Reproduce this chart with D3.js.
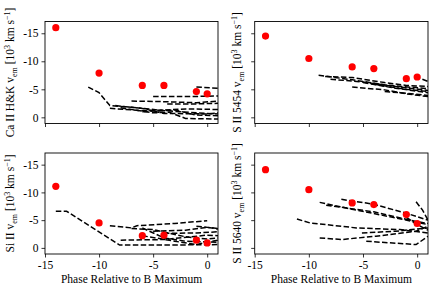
<!DOCTYPE html>
<html><head><meta charset="utf-8">
<script src="https://cdn.jsdelivr.net/npm/d3@7"></script>
<style>
body{margin:0;background:#fff;}
svg{display:block;font-family:"Liberation Serif","DejaVu Serif",serif;}
</style></head><body>
<svg id="c" width="439" height="292"></svg>
<script>
// ---- data ----
const phases = [-14, -10, -6, -4, -1, 0];
const caVel = [-16.0, -7.9, -5.7, -5.7, -4.6, -4.2];
const s5454Vel = [-14.5, -10.5, -9.0, -8.7, -6.9, -7.2];
const siVel = [-11.1, -4.5, -2.2, -2.3, -1.4, -0.9];
const s5640Vel = [-14.1, -10.5, -8.1, -7.8, -6.0, -4.4];

const caModels = [
 [[-11,-5.4],[-10,-4.4],[-9,-2.1],[-7,-1.8],[-4,-1.2],[-1,-0.8],[1,-0.6]],
 [[-7,-2.9],[-4,-2.8],[-1,-2.6],[1,-2.9]],
 [[-5,-3.7],[-2,-3.7],[1,-3.8]],
 [[-1,-5.4],[1,-5.2]],
 [[-3.7,-2.4],[-1,-2.4],[1,-2.5]],
 [[-9,-1.6],[-6,-1.2],[-4,-1.3],[-2,-1.5],[1,-1.4]],
 [[-8,-1.7],[-5,-0.8],[-3.5,-0.9],[-2,0.2],[1,0.3]],
 [[-6,-1.0],[-3,-1.3],[-1,-0.4],[1,-0.3]],
 [[-8.5,-2.1],[-6,-1.6],[-4,-0.7],[0,-0.6],[1,-0.8]]
];
const s5454Models = [
 [[-9.1,-7.5],[-6,-6.7],[-3,-5.8],[1,-5.1]],
 [[-8.5,-7.3],[-6,-7.1],[-3,-6.2],[-1,-5.7],[1,-5.5]],
 [[-8,-6.8],[-5,-6.3],[-2,-5.5],[1,-4.8]],
 [[-6,-5.4],[-3,-4.9],[-1,-4.2],[1,-3.7]],
 [[-3,-4.6],[-1,-4.3],[1,-3.9]],
 [[-5,-6.2],[-2,-5.2],[1,-4.4]],
 [[-0.2,-7.3],[1,-6.4]],
 [[-4,-5.9],[-1,-5.0],[1,-4.6]]
];
const siModels = [
 [[-14,-6.6],[-13,-6.6],[-8.1,-0.5],[-4,-0.5],[1,-0.6]],
 [[-9,-4.0],[-7,-3.6],[-6.5,-4.0],[-3,-4.4],[0,-4.9]],
 [[-8,-1.4],[-4,-1.5],[0,-2.3],[1,-2.2]],
 [[-7,-3.5],[-5,-3.3],[-2,-2.0],[0,-1.6],[1,-1.8]],
 [[-6,-3.6],[-4,-1.8],[-2,-1.2],[1,-1.0]],
 [[-5,-3.0],[-2,-3.2],[0,-3.7],[1,-3.4]],
 [[-4,-2.6],[-1,-2.7],[1,-2.9]],
 [[-6,-2.2],[-3,-1.2],[-1,-0.6],[1,-1.4]],
 [[-1,-3.9],[1,-3.5]]
];
const s5640Models = [
 [[-11.1,-5.2],[-9.9,-4.5],[-5.6,-3.6],[-1.6,-3.3],[1,-2.7]],
 [[-9,-8.2],[-7.1,-7.4],[-2.5,-5.6],[1,-4.2]],
 [[-7,-8.75],[-4.1,-7.9],[-1,-6.25],[1,-5.0]],
 [[-8.4,-7.7],[-4,-6.5],[-0.1,-4.75],[1,-4.4]],
 [[-9,-1.8],[-7,-1.5],[-3.8,-2.1],[-0.1,-3.0],[1,-3.9]],
 [[-4.7,-1.2],[-0.1,-0.6],[1,-2.1]],
 [[-5.1,-2.7],[-2,-3.0],[1,-3.6]],
 [[-0.1,-8.3],[0.5,-6.8],[1,-5.0]],
 [[-1,-5.5],[0,-4.2],[1,-3.2]]
];
const xTicks = [-15, -10, -5, 0];
const yTicks = [-15, -10, -5, 0];
const xLabel = "Phase Relative to B Maximum";

const panels = [
 {ion:"Ca II H&K", vel:caVel, models:caModels, x0:45, x1:218, y0:21.5, y1:123.5, yl:true, xl:false, lx:13},
 {ion:"S II 5454", vel:s5454Vel, models:s5454Models, x0:254.7, x1:428, y0:21.5, y1:123.5, yl:false, xl:false, lx:240},
 {ion:"Si II", vel:siVel, models:siModels, x0:45, x1:218, y0:153, y1:254, yl:true, xl:true, lx:13},
 {ion:"S II 5640", vel:s5640Vel, models:s5640Models, x0:254.7, x1:428, y0:153, y1:254, yl:false, xl:true, lx:240}
];

const svg = d3.select("#c");
const fmt = d => (d < 0 ? "-" : "") + Math.abs(d);

panels.forEach((p, i) => {
  const x = d3.scaleLinear().domain([-15, 1]).range([p.x0, p.x1]);
  const y = d3.scaleLinear().domain([-17.1, 1.1]).range([p.y0, p.y1]);
  const g = svg.append("g");
  const cid = "clip" + i;
  svg.append("clipPath").attr("id", cid).append("rect")
    .attr("x", p.x0).attr("y", p.y0).attr("width", p.x1 - p.x0).attr("height", p.y1 - p.y0);
  const line = d3.line().x(d => x(d[0])).y(d => y(d[1]));
  const plot = g.append("g").attr("clip-path", `url(#${cid})`);
  plot.selectAll("path.m").data(p.models).join("path")
    .attr("d", line).attr("fill", "none").attr("stroke", "#000")
    .attr("stroke-width", 1.5).attr("stroke-dasharray", "5.5,2.4");
  plot.selectAll("circle").data(phases.map((ph, k) => [ph, p.vel[k]])).join("circle")
    .attr("cx", d => x(d[0])).attr("cy", d => y(d[1])).attr("r", 3.6).attr("fill", "#ff0000");

  const ax = g.append("g").attr("transform", `translate(0,${p.y1})`)
    .call(d3.axisBottom(x).tickValues(xTicks).tickSize(3.5).tickSizeOuter(0).tickFormat(p.xl ? fmt : ""));
  const ay = g.append("g").attr("transform", `translate(${p.x0},0)`)
    .call(d3.axisLeft(y).tickValues(yTicks).tickSize(3.5).tickSizeOuter(0).tickFormat(p.yl ? fmt : ""));
  [ax, ay].forEach(a => {
    a.select(".domain").remove();
    a.selectAll("text").attr("font-family", "Liberation Serif").attr("font-size", 11.5).attr("fill", "#000");
    a.selectAll("line").attr("stroke", "#000").attr("stroke-width", 0.8);
  });
  g.append("rect").attr("x", p.x0).attr("y", p.y0).attr("width", p.x1 - p.x0).attr("height", p.y1 - p.y0)
    .attr("fill", "none").attr("stroke", "#000").attr("stroke-width", 0.9);

  const t = g.append("text").attr("transform", `translate(${p.lx + 1},${(p.y0 + p.y1) / 2}) rotate(-90)`)
    .attr("text-anchor", "middle").attr("font-size", 11.5).attr("fill", "#000");
  t.append("tspan").text(p.ion + " v");
  t.append("tspan").attr("font-size", 8).attr("dy", 2.5).text("em");
  t.append("tspan").attr("dy", -2.5).text(" [10");
  t.append("tspan").attr("font-size", 8).attr("dy", -4.5).text("3");
  t.append("tspan").attr("dy", 4.5).text(" km s");
  t.append("tspan").attr("font-size", 8).attr("dy", -4.5).text("\u22121");
  t.append("tspan").attr("dy", 4.5).text("]");

  if (p.xl) {
    g.append("text").attr("x", (p.x0 + p.x1) / 2).attr("y", 283)
      .attr("text-anchor", "middle").attr("font-size", 11.5).attr("fill", "#000").text(xLabel);
  }
});
</script>
</body></html>
